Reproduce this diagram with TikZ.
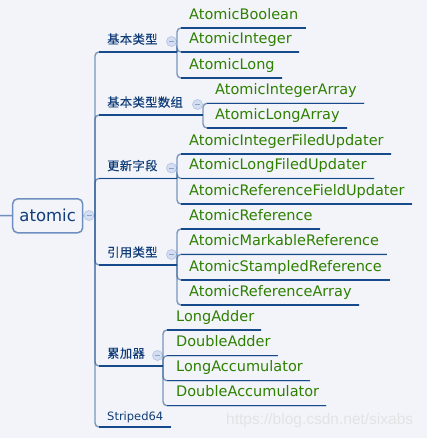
\documentclass[tikz,border=0pt]{standalone}
\usepackage{fontspec}
\setmainfont{DejaVu Sans}
\newfontfamily\cjk[LetterSpace=3,FakeBold=0.2]{Noto Sans CJK SC}
\newfontfamily\wmfont{Liberation Sans}
\usetikzlibrary{positioning}

\definecolor{bg}{HTML}{F2F4FA}
\definecolor{navy}{HTML}{174A8B}
\definecolor{topicline}{HTML}{6E8FC0}
\definecolor{leafgreen}{HTML}{2E8000}
\definecolor{catblue}{HTML}{103C78}
\definecolor{foldfill}{HTML}{D3DEF2}
\definecolor{foldline}{HTML}{AFC2E3}
\definecolor{foldminus}{HTML}{8EA3C6}

\tikzset{
  root/.style={draw=topicline, line width=1.5pt, rounded corners=5pt, fill=bg,
    minimum width=70pt, minimum height=34pt, inner sep=0pt, text=catblue,
    font=\fontsize{16.5}{19}\selectfont},
  cat/.style={anchor=south west, inner xsep=0pt, inner ysep=6pt, text depth=2pt,
    text=catblue, font=\cjk\fontsize{12.3}{14}\selectfont},
  leaf/.style={anchor=south west, inner xsep=0pt, inner ysep=5.2pt, text height=11pt,
    text depth=3.5pt, text=leafgreen, font=\fontsize{14.5}{17}\selectfont},
  branch/.style={draw=navy, draw opacity=0.55, line width=1.4pt, rounded corners=4pt},
  uline/.style={draw=navy, line width=1.3pt},
  fold/.style={circle, draw=foldline, fill=foldfill, line width=0.6pt,
    minimum size=10pt, inner sep=0pt,
    path picture={\draw[foldminus, line width=0.9pt]
      ([xshift=-2.5pt]path picture bounding box.center) --
      ([xshift=2.5pt]path picture bounding box.center);}}
}

\begin{document}
\begin{tikzpicture}[x=1pt,y=-1pt]
  \fill[bg] (0,0) rectangle (427,438);
  \useasboundingbox (0,0) rectangle (427,438);

  % root topic
  \node[root] (atomic) at (47.7,215.8) {atomic};
  \coordinate (parent) at (0,215.5);
  \coordinate (hub) at (95,215.5);
  \draw[topicline, line width=1.5pt] (parent) -- (atomic);
  \draw[branch] (atomic) -- (hub);
  \node[fold] (fold0) at (89,215.5) {};

  % categories
  \foreach \k/\y/\x/\lbl in {1/52/177/基本类型, 2/115/203/基本类型数组,
      3/178.5/177/更新字段, 4/265/177/引用类型, 5/366/163/累加器}{
    \coordinate (j\k) at (\x,\y);
    \node[cat] (cat\k) at (107,\y) {\lbl};
    \draw[branch] (hub) |- (j\k);
    \draw[uline] ([xshift=4pt]hub|-j\k) -- (j\k);
    \node[fold] (fold\k) at ([shift={(-5.5,-10.5)}]j\k) {};
  }
  \coordinate (j6) at (171,427);
  \node[cat, inner ysep=4pt, font=\fontsize{11.5}{14}\selectfont] (cat6) at (107,427) {Striped64};
  \draw[branch] (hub) |- (j6);
  \draw[uline] ([xshift=4pt]hub|-j6) -- (j6);

  % leaves
  \foreach \k/\y/\lbl in {1/28/AtomicBoolean, 2/52/AtomicInteger, 3/78/AtomicLong}{
    \node[leaf] (a\k) at (189,\y) {\lbl};
    \draw[branch] (j1) |- ([xshift=7.5pt]a\k.south east);
    \draw[uline] ([xshift=4pt]j1|-a\k.south) -- ([xshift=7.5pt]a\k.south east);
  }
  \foreach \k/\y/\lbl in {1/103.3/AtomicIntegerArray, 2/128/AtomicLongArray}{
    \node[leaf] (b\k) at (215,\y) {\lbl};
    \draw[branch] (j2) |- ([xshift=7.5pt]b\k.south east);
    \draw[uline] ([xshift=4pt]j2|-b\k.south) -- ([xshift=7.5pt]b\k.south east);
  }
  \foreach \k/\y/\lbl in {1/154/AtomicIntegerFiledUpdater, 2/178.5/AtomicLongFiledUpdater,
      3/204/AtomicReferenceFieldUpdater}{
    \node[leaf] (u\k) at (189,\y) {\lbl};
    \draw[branch] (j3) |- ([xshift=7.5pt]u\k.south east);
    \draw[uline] ([xshift=4pt]j3|-u\k.south) -- ([xshift=7.5pt]u\k.south east);
  }
  \foreach \k/\y/\lbl in {1/229/AtomicReference, 2/254.3/AtomicMarkableReference,
      3/280/AtomicStampledReference, 4/305/AtomicReferenceArray}{
    \node[leaf] (r\k) at (189,\y) {\lbl};
    \draw[branch] (j4) |- ([xshift=7.5pt]r\k.south east);
    \draw[uline] ([xshift=4pt]j4|-r\k.south) -- ([xshift=7.5pt]r\k.south east);
  }
  \foreach \k/\y/\lbl in {1/330/LongAdder, 2/355.7/DoubleAdder,
      3/380.7/LongAccumulator, 4/405.7/DoubleAccumulator}{
    \node[leaf] (s\k) at (176,\y) {\lbl};
    \draw[branch] (j5) |- ([xshift=7pt]s\k.south east);
    \draw[uline] ([xshift=4pt]j5|-s\k.south) -- ([xshift=7pt]s\k.south east);
  }

  % watermark
  \node[anchor=west, inner sep=0pt, text=gray!22, font=\wmfont\fontsize{15.5}{18}\selectfont]
    (mark) at (226,420) {https://blog.csdn.net/sixabs};
\end{tikzpicture}
\end{document}
